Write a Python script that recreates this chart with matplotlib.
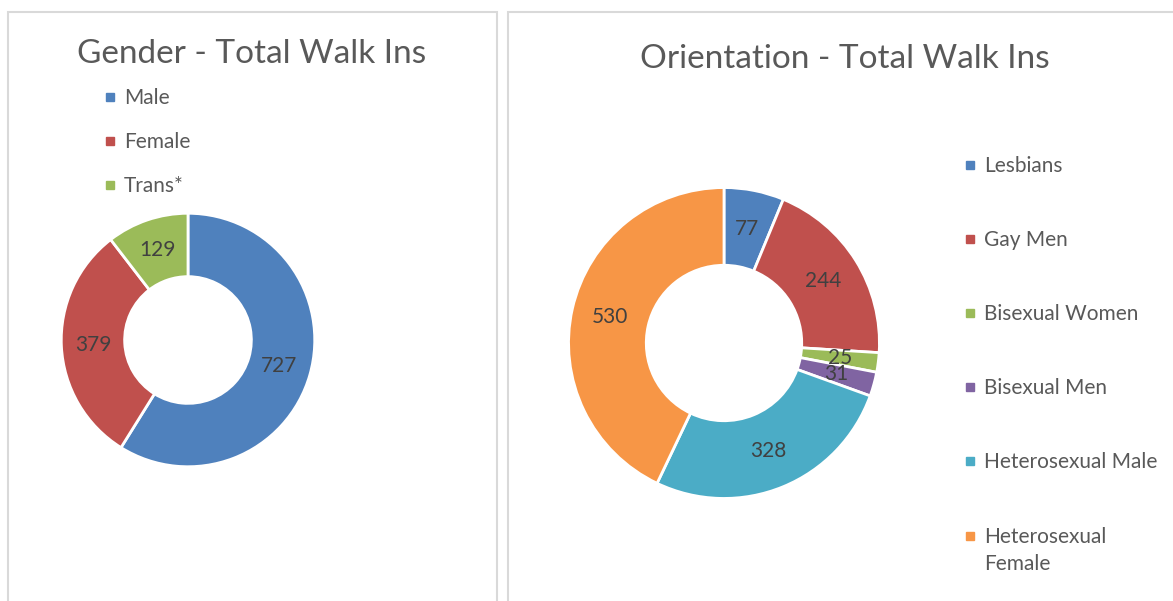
import matplotlib.pyplot as plt
from matplotlib.patches import Rectangle

gender_labels = ['Male', 'Female', 'Trans*']
gender_values = [727, 379, 129]

orient_labels = ['Lesbians', 'Gay Men', 'Bisexual Women', 'Bisexual Men',
                 'Heterosexual Male', 'Heterosexual\nFemale']
orient_values = [77, 244, 25, 31, 328, 530]

colors = ['#4F81BD', '#C0504D', '#9BBB59', '#8064A2', '#4BACC6', '#F79646']

W, H = 1173, 601
plt.rcParams['font.family'] = ['Lato', 'DejaVu Sans']
fig = plt.figure(figsize=(W / 100, H / 100), dpi=100)


def px(x, y):
    # pixel coords (top-left origin) -> figure fraction
    return x / W, 1 - y / H


# panel borders
for x0, x1 in [(8, 497), (508, 1180)]:
    fig.patches.append(Rectangle(px(x0, 640), (x1 - x0) / W, (640 - 12) / H,
                                 transform=fig.transFigure, fill=False,
                                 edgecolor='#D9D9D9', linewidth=1.5))


def donut(cx, cy, r, values, cols):
    r = r + 1
    ax = fig.add_axes([(cx - r) / W, (H - cy - r) / H, 2 * r / W, 2 * r / H])
    ax.pie(values, colors=cols, startangle=90, counterclock=False,
           labels=[str(v) for v in values], labeldistance=0.75,
           wedgeprops=dict(width=0.5, edgecolor='white', linewidth=2),
           textprops=dict(fontsize=15, color='#404040',
                          ha='center', va='center'))
    ax.set_xlim(-1.01, 1.01)
    ax.set_ylim(-1.01, 1.01)
    ax.set_aspect('equal')
    ax.axis('off')
    return ax


def legend(x, ys, labels, cols):
    for y, lab, c in zip(ys, labels, cols):
        fig.patches.append(Rectangle(px(x - 4, y + 4), 8 / W, 8 / H,
                                     transform=fig.transFigure, color=c))
        fig.text(*px(x + 14, y - 9), lab, fontsize=15, color='#595959',
                 ha='left', va='top', linespacing=1.45)


donut(188, 340, 127, gender_values, colors[:3])
donut(724, 343, 156, orient_values, colors)

fig.text(*px(252, 54), 'Gender - Total Walk Ins', fontsize=24, color='#595959',
         ha='center', va='center')
fig.text(*px(845, 59), 'Orientation - Total Walk Ins', fontsize=24, color='#595959',
         ha='center', va='center')

legend(110, [97, 141, 185], gender_labels, colors[:3])
legend(970, [165, 239, 313, 387, 461, 536], orient_labels, colors)

fig.savefig('out.png', dpi=100)
